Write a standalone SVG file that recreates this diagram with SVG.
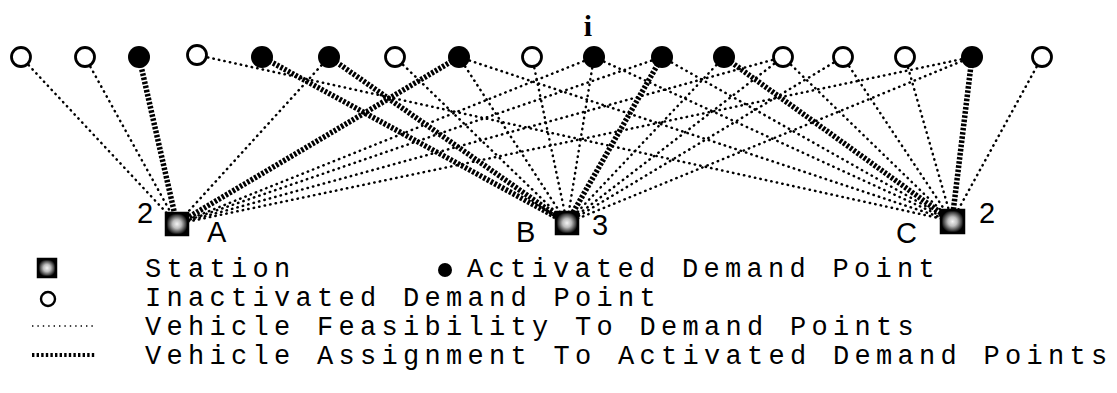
<svg xmlns="http://www.w3.org/2000/svg" width="1117" height="393" viewBox="0 0 1117 393">
<style>
.f{stroke:#000;stroke-width:2.5;stroke-dasharray:0.4 5.2;stroke-linecap:round;fill:none}
.t{stroke:#000;stroke-width:5.5;stroke-dasharray:2.6 1.6;fill:none}
.o{fill:#fff;stroke:#000;stroke-width:2.8}
.a{fill:#000}
.lbl{font-family:"Liberation Sans",Arial,sans-serif;font-size:29px;fill:#000}
.leg{font-family:"Liberation Mono","Courier New",monospace;font-size:27px;letter-spacing:5.3px;fill:#000}
</style>
<defs>
<radialGradient id="sg" cx="50%" cy="50%" r="50%">
<stop offset="0" stop-color="#f4f4f4"/>
<stop offset="0.4" stop-color="#bdbdbd"/>
<stop offset="1" stop-color="#000"/>
</radialGradient>
</defs>
<rect width="1117" height="393" fill="#fff"/>
<g id="connectors">
<line class="f" x1="21" y1="57" x2="177" y2="224"/>
<line class="f" x1="85" y1="57" x2="177" y2="224"/>
<line class="t" x1="139" y1="57" x2="177" y2="224"/>
<line class="f" x1="329" y1="57" x2="177" y2="224"/>
<line class="t" x1="459" y1="57" x2="177" y2="224"/>
<line class="f" x1="594" y1="57" x2="177" y2="224"/>
<line class="f" x1="662" y1="57" x2="177" y2="224"/>
<line class="f" x1="783" y1="57" x2="177" y2="224"/>
<line class="f" x1="972" y1="57" x2="177" y2="224"/>
<line class="t" x1="262" y1="57" x2="567" y2="223"/>
<line class="t" x1="329" y1="57" x2="567" y2="223"/>
<line class="f" x1="395" y1="57" x2="567" y2="223"/>
<line class="f" x1="459" y1="57" x2="567" y2="223"/>
<line class="f" x1="532" y1="57" x2="567" y2="223"/>
<line class="f" x1="594" y1="57" x2="567" y2="223"/>
<line class="t" x1="662" y1="57" x2="567" y2="223"/>
<line class="f" x1="724" y1="57" x2="567" y2="223"/>
<line class="f" x1="783" y1="57" x2="567" y2="223"/>
<line class="f" x1="843" y1="57" x2="567" y2="223"/>
<line class="f" x1="972" y1="57" x2="567" y2="223"/>
<line class="f" x1="197" y1="55" x2="952" y2="221"/>
<line class="f" x1="459" y1="57" x2="952" y2="221"/>
<line class="f" x1="594" y1="57" x2="952" y2="221"/>
<line class="f" x1="662" y1="57" x2="952" y2="221"/>
<line class="t" x1="724" y1="57" x2="952" y2="221"/>
<line class="f" x1="783" y1="57" x2="952" y2="221"/>
<line class="f" x1="843" y1="57" x2="952" y2="221"/>
<line class="f" x1="905" y1="57" x2="952" y2="221"/>
<line class="t" x1="972" y1="57" x2="952" y2="221"/>
<line class="f" x1="1042" y1="57" x2="952" y2="221"/>
</g>
<g id="n1"><circle class="o" cx="21" cy="57" r="9.5"/></g>
<g id="n2"><circle class="o" cx="85" cy="57" r="9.5"/></g>
<g id="n3"><circle class="a" cx="139" cy="57" r="11"/></g>
<g id="n4"><circle class="o" cx="197" cy="55" r="9.5"/></g>
<g id="n5"><circle class="a" cx="262" cy="57" r="11"/></g>
<g id="n6"><circle class="a" cx="329" cy="57" r="11"/></g>
<g id="n7"><circle class="o" cx="395" cy="57" r="9.5"/></g>
<g id="n8"><circle class="a" cx="459" cy="57" r="11"/></g>
<g id="n9"><circle class="o" cx="532" cy="57" r="9.5"/></g>
<g id="n10"><circle class="a" cx="594" cy="57" r="11"/><text x="588" y="36" text-anchor="middle" font-family="Liberation Serif,serif" font-weight="bold" font-size="30">i</text></g>
<g id="n11"><circle class="a" cx="662" cy="57" r="11"/></g>
<g id="n12"><circle class="a" cx="724" cy="57" r="11"/></g>
<g id="n13"><circle class="o" cx="783" cy="57" r="9.5"/></g>
<g id="n14"><circle class="o" cx="843" cy="57" r="9.5"/></g>
<g id="n15"><circle class="o" cx="905" cy="57" r="9.5"/></g>
<g id="n16"><circle class="a" cx="972" cy="57" r="11"/></g>
<g id="n17"><circle class="o" cx="1042" cy="57" r="9.5"/></g>
<g id="stationA">
<rect x="166" y="213" width="22" height="22" fill="url(#sg)" stroke="#000" stroke-width="2.5"/>
<text class="lbl" x="137" y="223">2</text>
<text class="lbl" x="207" y="242">A</text>
</g>
<g id="stationB">
<rect x="556" y="212" width="22" height="22" fill="url(#sg)" stroke="#000" stroke-width="2.5"/>
<text class="lbl" x="516" y="242">B</text>
<text class="lbl" x="592" y="235">3</text>
</g>
<g id="stationC">
<rect x="941" y="210" width="23" height="23" fill="url(#sg)" stroke="#000" stroke-width="2.5"/>
<text class="lbl" x="896" y="243">C</text>
<text class="lbl" x="979" y="223">2</text>
</g>
<g id="legend">
<rect x="38" y="259" width="18" height="18" fill="url(#sg)" stroke="#000" stroke-width="2.5"/>
<text class="leg" x="145" y="277">Station</text>
<circle class="a" cx="445" cy="270" r="7"/>
<text class="leg" x="467" y="277">Activated Demand Point</text>
<circle fill="#fff" stroke="#000" stroke-width="2.4" cx="48" cy="299" r="7"/>
<text class="leg" x="145" y="306">Inactivated Demand Point</text>
<line x1="32" y1="326" x2="95" y2="326" stroke="#000" stroke-width="1.6" stroke-dasharray="1.4 4"/>
<text class="leg" x="145" y="335">Vehicle Feasibility To Demand Points</text>
<line x1="32" y1="355" x2="95" y2="355" stroke="#000" stroke-width="4" stroke-dasharray="2.4 2.2"/>
<text class="leg" x="145" y="364">Vehicle Assignment To Activated Demand Points</text>
</g>
</svg>
